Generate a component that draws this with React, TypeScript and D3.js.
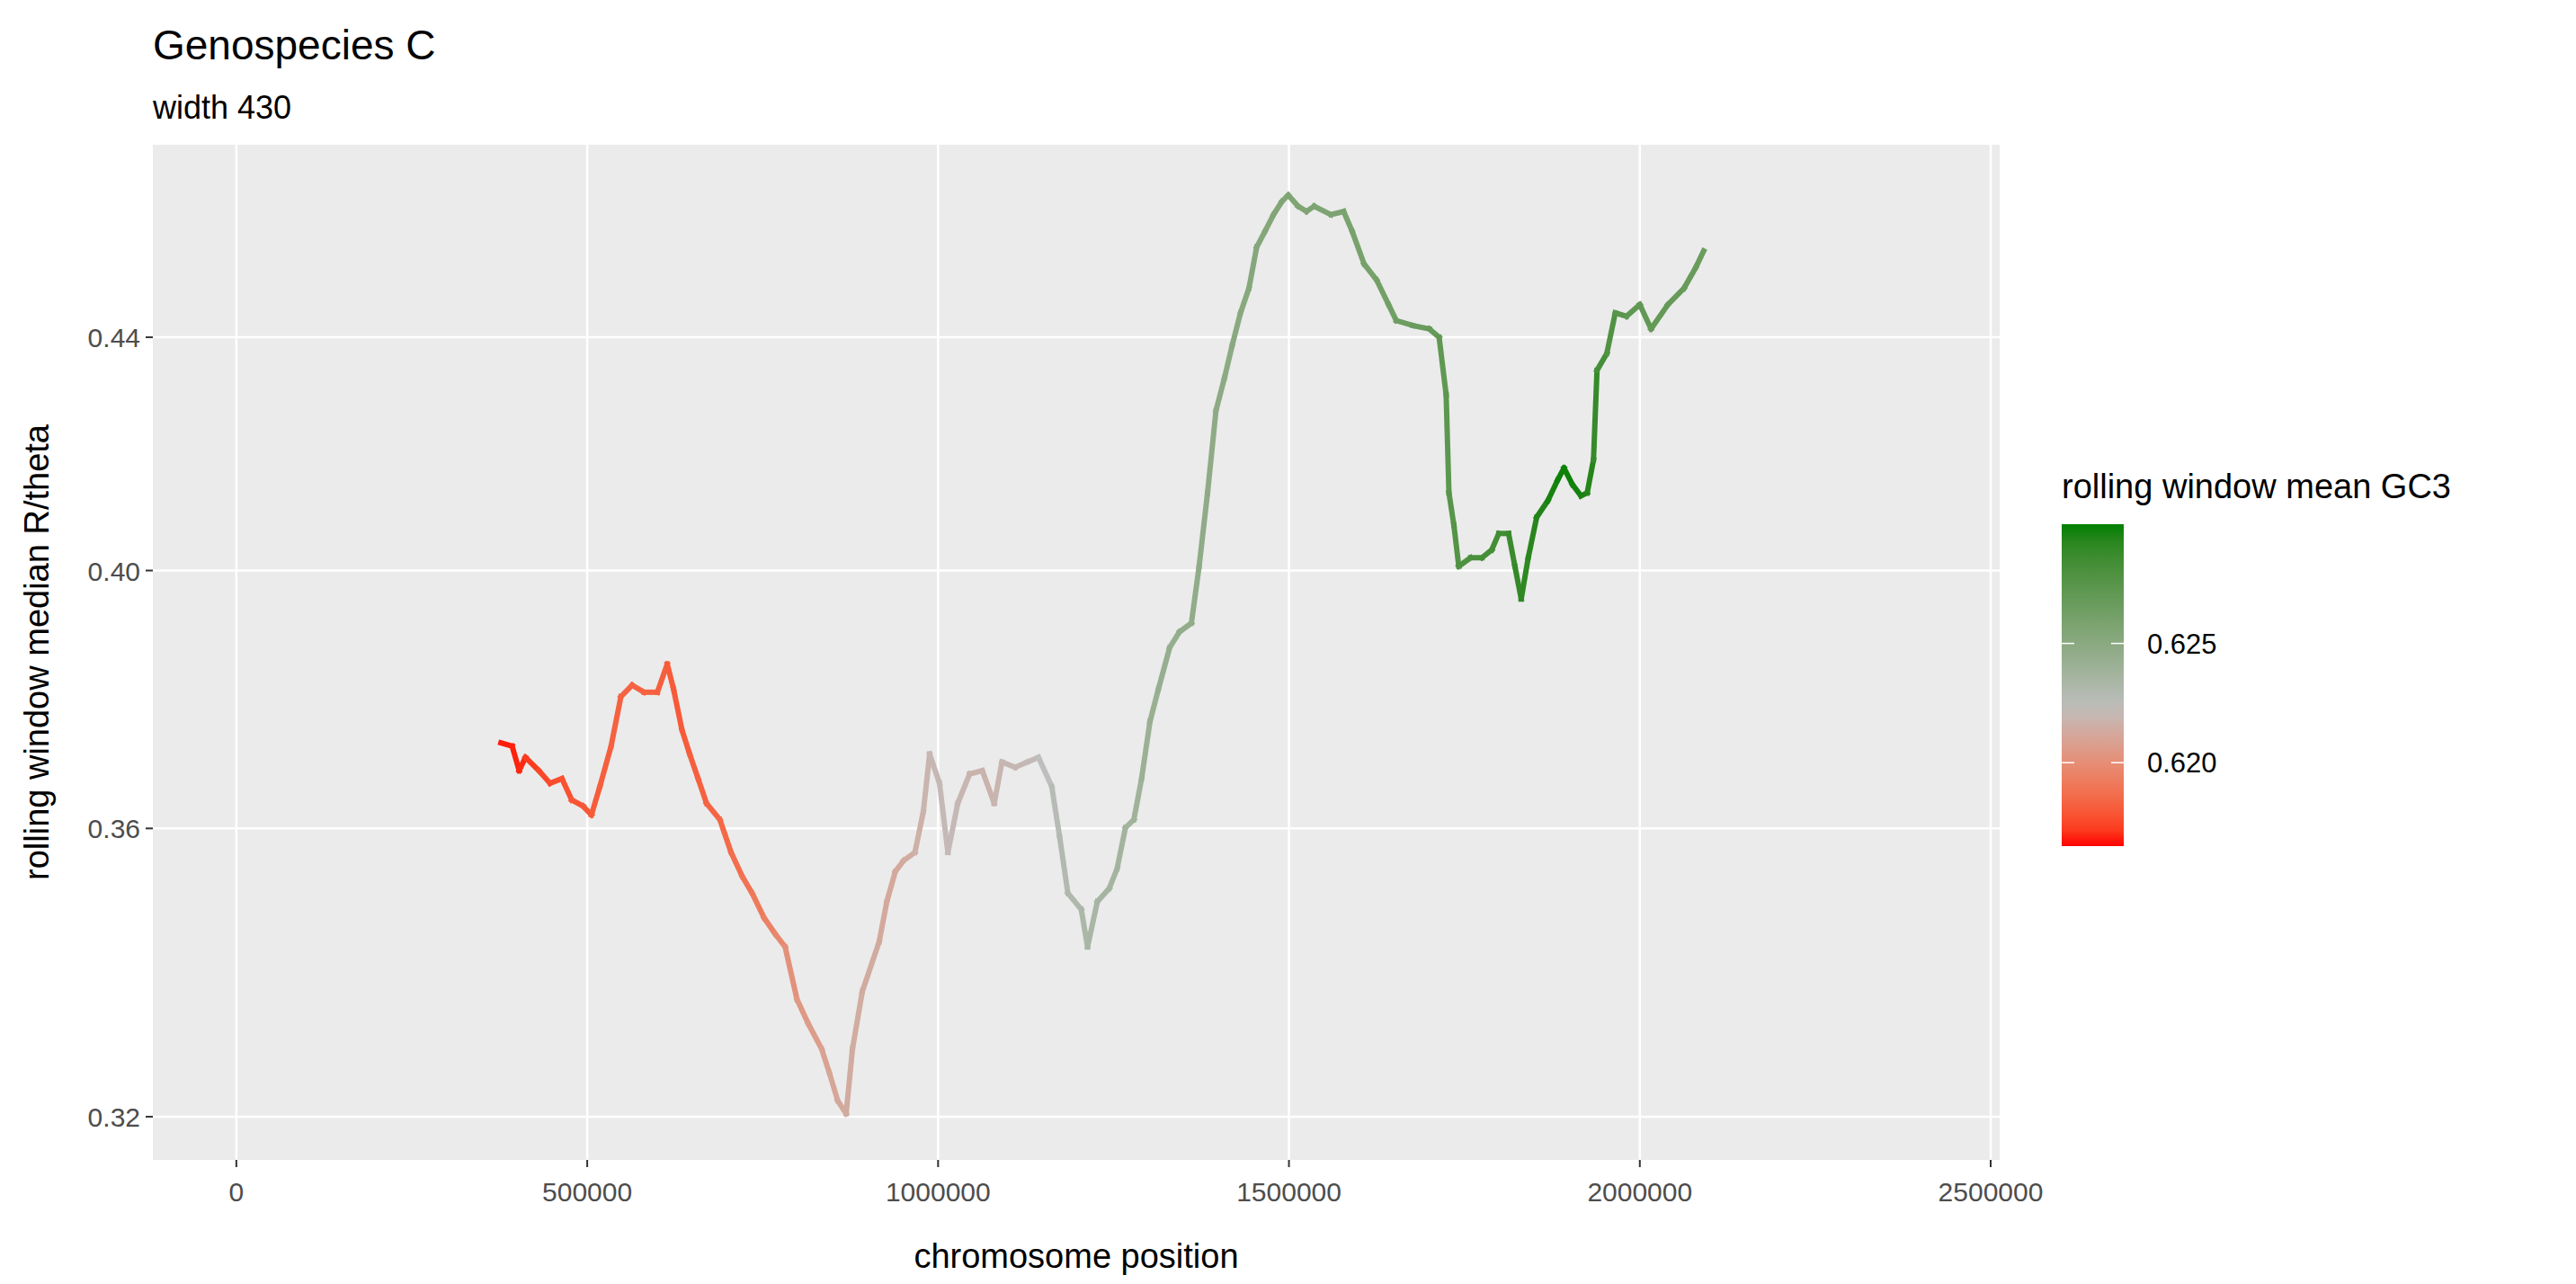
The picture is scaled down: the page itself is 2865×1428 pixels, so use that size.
import React from 'react';
import * as d3 from 'd3';

// chromosome position (bp)
const positions = [377000,393000,403000,412000,431000,447000,464000,478000,494000,506000,518000,534000,548000,564000,581000,600000,614000,623000,635000,646000,658000,670000,689000,705000,721000,735000,752000,768000,782000,799000,815000,834000,845000,857000,869000,878000,892000,916000,927000,939000,951000,967000,979000,988000,1002000,1014000,1028000,1045000,1063000,1080000,1091000,1110000,1127000,1143000,1162000,1173000,1185000,1204000,1213000,1227000,1244000,1255000,1267000,1279000,1290000,1302000,1314000,1330000,1344000,1361000,1372000,1384000,1396000,1408000,1419000,1431000,1443000,1454000,1466000,1478000,1490000,1499000,1513000,1525000,1536000,1560000,1578000,1590000,1607000,1625000,1642000,1653000,1677000,1700000,1714000,1724000,1728000,1735000,1742000,1759000,1775000,1789000,1799000,1813000,1822000,1831000,1841000,1853000,1869000,1883000,1892000,1904000,1916000,1925000,1934000,1939000,1953000,1965000,1981000,2000000,2016000,2040000,2063000,2080000,2091000];
// rolling window median R/theta
const ratios = [0.3728,0.3723,0.3686,0.3706,0.3686,0.3667,0.3674,0.3642,0.3633,0.3620,0.3662,0.3723,0.3799,0.3817,0.3806,0.3806,0.3850,0.3811,0.3748,0.3711,0.3674,0.3637,0.3613,0.3565,0.3530,0.3506,0.3471,0.3448,0.3430,0.3357,0.3324,0.3290,0.3258,0.3221,0.3204,0.3290,0.3368,0.3437,0.3494,0.3537,0.3553,0.3565,0.3625,0.3711,0.3667,0.3565,0.3637,0.3681,0.3686,0.3637,0.3699,0.3691,0.3699,0.3706,0.3662,0.3589,0.3506,0.3483,0.3430,0.3494,0.3513,0.3541,0.3601,0.3613,0.3674,0.3761,0.3811,0.3876,0.3901,0.3915,0.4007,0.4129,0.4270,0.4327,0.4385,0.4444,0.4489,0.4565,0.4595,0.4626,0.4651,0.4663,0.4642,0.4632,0.4642,0.4626,0.4632,0.4595,0.4534,0.4504,0.4459,0.4430,0.4421,0.4415,0.4400,0.4298,0.4129,0.4075,0.4007,0.4021,0.4021,0.4034,0.4061,0.4061,0.4007,0.3954,0.4021,0.4088,0.4116,0.4151,0.4171,0.4143,0.4124,0.4129,0.4185,0.4341,0.4371,0.4444,0.4438,0.4459,0.4415,0.4459,0.4489,0.4528,0.4558];
// rolling window mean GC3
const gc3 = [0.6166,0.6168,0.6167,0.6170,
  0.6174,0.6176,0.6177,0.6178,0.6179,0.6180,0.6181,
  0.6182,0.6183,0.6183,0.6183,0.6182,0.6181,0.6180,0.6180,0.6181,0.6182,
  0.6183,0.6184,0.6186,0.6188,0.6190,0.6193,0.6196,0.6200,0.6203,
  0.6206,0.6208,0.6210,0.6212,0.6213,0.6214,0.6214,0.6213,0.6212,0.6212,0.6213,0.6215,0.6217,0.6219,0.6220,0.6221,
  0.6220,0.6218,0.6217,0.6218,0.6219,0.6220,0.6220,0.6222,0.6225,0.6228,0.6230,0.6232,0.6233,0.6235,0.6236,0.6237,
  0.6237,0.6238,0.6240,0.6242,0.6243,0.6244,0.6245,0.6246,0.6247,0.6248,0.6248,0.6249,
  0.6250,0.6251,0.6252,0.6253,0.6253,0.6254,0.6255,0.6255,0.6256,0.6256,0.6257,0.6257,0.6258,0.6259,0.6260,0.6261,0.6262,0.6264,0.6266,0.6268,0.6270,
  0.6272,0.6274,0.6276,0.6278,0.6280,0.6282,0.6283,0.6284,0.6286,0.6288,0.6290,0.6292,
  0.6294,0.6296,0.6298,0.6299,0.6298,0.6297,0.6296,0.6292,
  0.6285,0.6280,0.6276,0.6273,0.6271,0.6270,0.6269,0.6268,0.6267,0.6266];

const xTicks = [0, 500000, 1000000, 1500000, 2000000, 2500000];
const yTicks = [0.32, 0.36, 0.40, 0.44];
const legendTicks = [0.620, 0.625];
const gcDomain = [0.6165, 0.6223, 0.6300];

const W = 2865, H = 1428;
const panel = { left: 170, right: 2224, top: 161, bottom: 1290 };
const font = '"Liberation Sans", Arial, sans-serif';

export default function App() {
  const x = d3.scaleLinear().domain([-119000, 2512800]).range([panel.left, panel.right]);
  const y = d3.scaleLog().domain([0.3144, 0.4760]).range([panel.bottom, panel.top]);
  const color = d3.scaleLinear<string>().domain(gcDomain).range(['#ff0000', '#bebebe', '#008000'])
    .interpolate(d3.interpolateLab).clamp(true);

  const leg = { x: 2293, w: 69, top: 583, bottom: 941 };
  const ly = d3.scaleLinear().domain([gcDomain[0], gcDomain[2]]).range([leg.bottom, leg.top]);
  const stops = d3.range(0, 21).map(i => gcDomain[0] + (gcDomain[2] - gcDomain[0]) * i / 20);

  const segs = positions.slice(0, -1).map((p, i) => ({
    x1: x(p), y1: y(ratios[i]), x2: x(positions[i + 1]), y2: y(ratios[i + 1]),
    c: color((gc3[i] + gc3[i + 1]) / 2),
  }));

  const midX = (panel.left + panel.right) / 2;

  return (
    <svg width={W} height={H} style={{ position: 'absolute', left: 0, top: 0, background: '#fff' }} fontFamily={font}>
      <defs>
        <linearGradient id="gcgrad" x1="0" y1="1" x2="0" y2="0">
          {stops.map((s, i) => <stop key={i} offset={i / 20} stopColor={color(s)} />)}
        </linearGradient>
      </defs>
      <text x={170} y={66} fontSize={46}>Genospecies C</text>
      <text x={170} y={132} fontSize={36}>width 430</text>

      <rect x={panel.left} y={panel.top} width={panel.right - panel.left} height={panel.bottom - panel.top} fill="#ebebeb" />
      {xTicks.map(t => (
        <line key={t} x1={x(t)} x2={x(t)} y1={panel.top} y2={panel.bottom} stroke="#fff" strokeWidth={2.5} />
      ))}
      {yTicks.map(t => (
        <line key={t} x1={panel.left} x2={panel.right} y1={y(t)} y2={y(t)} stroke="#fff" strokeWidth={2.5} />
      ))}

      {segs.map((s, i) => (
        <line key={i} x1={s.x1} y1={s.y1} x2={s.x2} y2={s.y2} stroke={s.c} strokeWidth={6} strokeLinecap="square" />
      ))}

      {xTicks.map(t => (
        <g key={t}>
          <line x1={x(t)} x2={x(t)} y1={panel.bottom} y2={panel.bottom + 8} stroke="#333" strokeWidth={2} />
          <text x={x(t)} y={panel.bottom + 46} fontSize={30} fill="#4d4d4d" textAnchor="middle">{t}</text>
        </g>
      ))}
      {yTicks.map(t => (
        <g key={t}>
          <line x1={panel.left - 8} x2={panel.left} y1={y(t)} y2={y(t)} stroke="#333" strokeWidth={2} />
          <text x={panel.left - 14} y={y(t) + 11} fontSize={30} fill="#4d4d4d" textAnchor="end">{t.toFixed(2)}</text>
        </g>
      ))}
      <text x={midX} y={1410} fontSize={38} textAnchor="middle">chromosome position</text>
      <text transform={`translate(54,${(panel.top + panel.bottom) / 2}) rotate(-90)`} fontSize={38} textAnchor="middle">rolling window median R/theta</text>

      <text x={leg.x} y={554} fontSize={38}>rolling window mean GC3</text>
      <rect x={leg.x} y={leg.top} width={leg.w} height={leg.bottom - leg.top} fill="url(#gcgrad)" />
      {legendTicks.map(t => (
        <g key={t}>
          <line x1={leg.x} x2={leg.x + 14} y1={ly(t)} y2={ly(t)} stroke="#fff" strokeWidth={1.5} />
          <line x1={leg.x + leg.w - 14} x2={leg.x + leg.w} y1={ly(t)} y2={ly(t)} stroke="#fff" strokeWidth={1.5} />
          <text x={2388} y={ly(t) + 11} fontSize={31}>{t.toFixed(3)}</text>
        </g>
      ))}
    </svg>
  );
}
